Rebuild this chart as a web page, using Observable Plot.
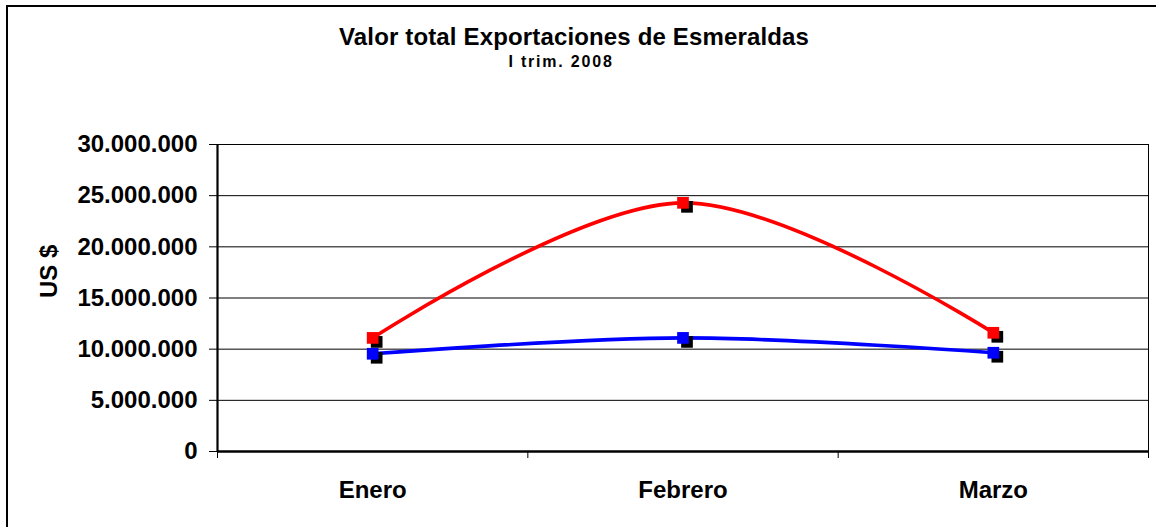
<!DOCTYPE html>
<html>
<head>
<meta charset="utf-8">
<script src="https://cdn.jsdelivr.net/npm/d3@7"></script>
<script src="https://cdn.jsdelivr.net/npm/@observablehq/plot@0.6"></script>
<style>
  html, body { margin: 0; padding: 0; background: #fff; overflow: hidden; }
  body { width: 1156px; height: 527px; position: relative; font-family: "Liberation Sans", Arial, sans-serif; }
  #frame { position: absolute; left: 6px; top: 5px; width: 1300px; height: 700px; border-left: 2px solid #000; border-top: 2px solid #000; }
  .t { position: absolute; font-weight: bold; color: #000; white-space: nowrap; line-height: 1; transform: translateX(-50%); }
  #title { left: 574px; top: 25px; font-size: 24px; letter-spacing: 0.15px; }
  #subtitle { left: 561px; top: 54px; font-size: 16px; letter-spacing: 1.8px; }
  #chart { position: absolute; left: 0; top: 0; }
</style>
</head>
<body>
<div id="frame"></div>
<div class="t" id="title">Valor total Exportaciones de Esmeraldas</div>
<div class="t" id="subtitle">I trim. 2008</div>
<div id="chart"></div>
<script>
const months = ["Enero", "Febrero", "Marzo"];
const serieRoja = [11100000, 24300000, 11600000];
const serieAzul = [9550000, 11100000, 9650000];
const yTicks = [0, 5000000, 10000000, 15000000, 20000000, 25000000, 30000000];
const yLabel = "US $";

const loc = d3.formatLocale({decimal: ",", thousands: ".", grouping: [3], currency: ["$", ""]});
const fmt = loc.format(",");

const rows = (vals) => months.map((m, i) => ({i: i + 0.5, m, v: vals[i]}));
const roja = rows(serieRoja);
const azul = rows(serieAzul);
const all = roja.concat(azul);

const chart = Plot.plot({
  width: 1156,
  height: 527,
  marginLeft: 217,
  marginRight: 8,
  marginTop: 144,
  marginBottom: 76,
  style: {fontFamily: "'Liberation Sans', Arial, sans-serif", fontWeight: "bold", fontSize: "24px", color: "#000", background: "transparent", overflow: "visible"},
  x: {domain: [0, months.length], axis: null},
  y: {domain: [0, 30000000], axis: null},
  marks: [
    Plot.ruleY(yTicks.filter(d => d > 0), {stroke: "#000", strokeWidth: 1}),
    Plot.ruleX([months.length], {stroke: "#000", strokeWidth: 1}),
    Plot.axisY({ticks: yTicks, tickSize: 8, tickPadding: 12, tickFormat: fmt, label: null, stroke: "#000", fontSize: 24, fontWeight: "bold", fill: "#000"}),
    Plot.axisX({ticks: d3.range(months.length + 1), tickSize: 7, tickFormat: () => "", label: null, stroke: "#000"}),
    Plot.text(months, {x: (d, i) => i + 0.5, frameAnchor: "bottom", lineAnchor: "bottom", dy: 46, text: d => d, fontSize: 24, fontWeight: "bold", fill: "#000"}),
    Plot.text([yLabel], {frameAnchor: "left", dx: -168, rotate: -90, text: d => d, fontSize: 24, fontWeight: "bold", fill: "#000"}),
    Plot.ruleX([0], {stroke: "#000", strokeWidth: 2.2}),
    Plot.ruleY([0], {stroke: "#000", strokeWidth: 2.4}),
    Plot.line(roja, {x: "i", y: "v", stroke: "#ff0000", strokeWidth: 3.6, curve: "cardinal", tension: 0}),
    Plot.line(azul, {x: "i", y: "v", stroke: "#0000ff", strokeWidth: 3.6, curve: "cardinal", tension: 0}),
    Plot.dot(all, {x: "i", y: "v", symbol: "square", r: 6.6, fill: "#000", stroke: "none", dx: 4, dy: 4}),
    Plot.dot(roja, {x: "i", y: "v", symbol: "square", r: 6.6, fill: "#ff0000", stroke: "none"}),
    Plot.dot(azul, {x: "i", y: "v", symbol: "square", r: 6.6, fill: "#0000ff", stroke: "none"})
  ]
});
document.getElementById("chart").appendChild(chart);
</script>
</body>
</html>
